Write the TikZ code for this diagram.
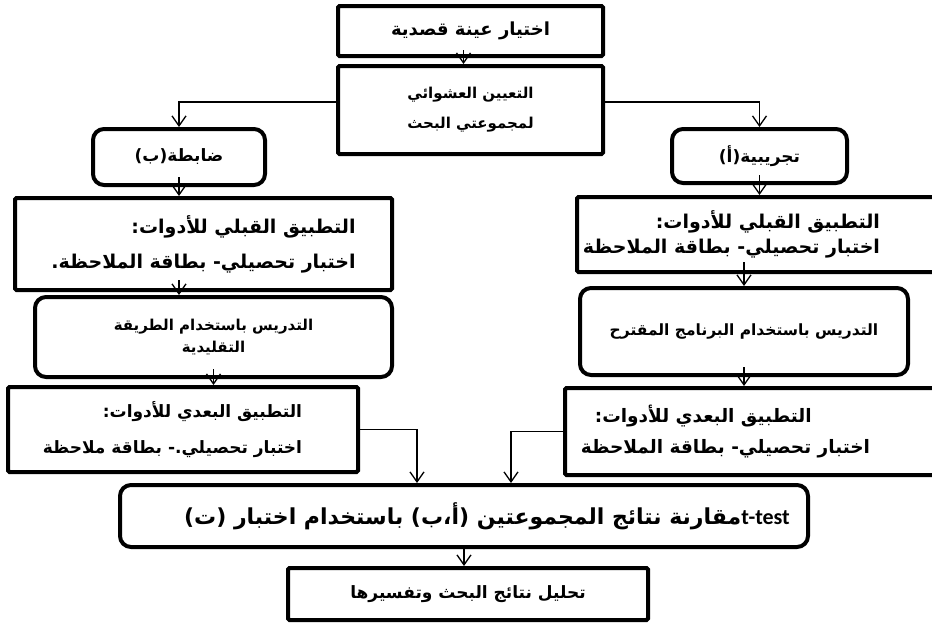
\documentclass[tikz,border=0pt]{standalone}
\usepackage{fontspec}
\newfontfamily\arabicfont[Script=Arabic]{DejaVu Sans}
\newfontfamily\latinfont{Carlito}
\TeXXeTstate=1
\usetikzlibrary{arrows.meta}
\newcommand{\ar}[1]{{\arabicfont\bfseries\beginR #1\endR}}
\newcommand{\fs}[1]{\fontsize{#1}{1.2\dimexpr#1pt\relax}\selectfont}
\begin{document}
\begin{tikzpicture}[x=1pt,y=-1pt,
    box/.style={draw,line width=4pt,rounded corners=1.5pt,inner sep=4pt,font=\fs{17}},
    rbox/.style={box,rounded corners=11pt},
    arr/.style={line width=1.3pt,-{Straight Barb[length=10pt,width=14pt,line width=1.3pt]}}]
  \useasboundingbox (0,0) rectangle (932,627);
  % boxes
  \node[box,minimum width=265pt,minimum height=50pt,font=\fs{18}] (sample) at (470.5,31) {\ar{اختيار عينة قصدية}};
  \node[box,minimum width=265pt,minimum height=88pt,align=center,font=\fs{15}] (assign) at (470.5,110)
    {\ar{التعيين العشوائي}\\[12pt]\ar{لمجموعتي البحث}};
  \node[rbox,minimum width=172pt,minimum height=56pt] (ctrl) at (179,157) {\ar{ضابطة(ب)}};
  \node[rbox,minimum width=175pt,minimum height=54pt] (expr) at (759.5,156) {\ar{تجريبية(أ)}};
  \node[box,minimum width=377pt,minimum height=92pt,align=right,font=\fs{19}] (preB) at (203.5,244)
    {\ar{التطبيق القبلي للأدوات:}\\[12pt]\ar{اختبار تحصيلي- بطاقة الملاحظة.}};
  \node[box,minimum width=363pt,minimum height=75pt,align=right,font=\fs{19}] (preA) at (758.5,234.5)
    {\ar{التطبيق القبلي للأدوات:}\hspace*{54pt}\\[2pt]\ar{اختبار تحصيلي- بطاقة الملاحظة}\hspace*{54pt}};
  \node[rbox,minimum width=357pt,minimum height=80pt,align=center,font=\fs{15}] (teachB) at (213.5,337)
    {\ar{التدريس باستخدام الطريقة}\\[4pt]\ar{التقليدية}};
  \node[rbox,minimum width=328pt,minimum height=87pt,font=\fs{15.5}] (teachA) at (744,331.5)
    {\ar{التدريس باستخدام البرنامج المقترح}};
  \node[box,minimum width=350pt,minimum height=85pt,align=right] (postB) at (183,429.5)
    {\ar{التطبيق البعدي للأدوات:}\hspace*{21pt}\\[15pt]\ar{اختبار تحصيلي.- بطاقة ملاحظة}\hspace*{21pt}};
  \node[box,minimum width=375pt,minimum height=87pt,align=left,font=\fs{18.5}] (postA) at (752.5,431.5)
    {\hspace*{14pt}\ar{التطبيق البعدي للأدوات:}\\[9pt]\ar{اختبار تحصيلي- بطاقة الملاحظة}\hspace*{54pt}};
  \node[rbox,minimum width=688pt,minimum height=62pt,font=\fs{22}] (comp) at (464,516)
    {\hspace*{46pt}\ar{\beginL{\latinfont\bfseries t-test}\endL مقارنة نتائج المجموعتين (أ،ب) باستخدام اختبار (ت)}};
  \node[box,minimum width=360pt,minimum height=52pt] (final) at (468,594) {\ar{تحليل نتائج البحث وتفسيرها}};
  % arrows
  \draw[arr] ([xshift=-7pt,yshift=8pt]sample.south) -- ([xshift=-7pt]assign.north);
  \draw[arr] ([yshift=8pt]assign.west) -| (ctrl.north);
  \draw[arr] ([yshift=8pt]assign.east) -| (expr.north);
  \draw[arr] ([yshift=10pt]ctrl.south) -- (ctrl.south |- preB.north);
  \draw[arr] ([yshift=10pt]expr.south) -- (expr.south |- preA.north);
  \draw[arr] ([yshift=12pt]ctrl |- preB.south) -- (ctrl |- teachB.north);
  \draw[arr] ([yshift=12pt]teachA |- preA.south) -- (teachA.north);
  \draw[arr] ([yshift=10pt]teachB.south) -- (teachB |- postB.north);
  \draw[arr] ([yshift=10pt]teachA.south) -- (teachA |- postA.north);
  \draw[arr] (postB.east) -| ([xshift=-47pt]comp.north);
  \draw[arr] (postA.west) -| ([xshift=47pt]comp.north);
  \draw[arr] (comp.south) -- (comp.south |- final.north);
\end{tikzpicture}
\end{document}
